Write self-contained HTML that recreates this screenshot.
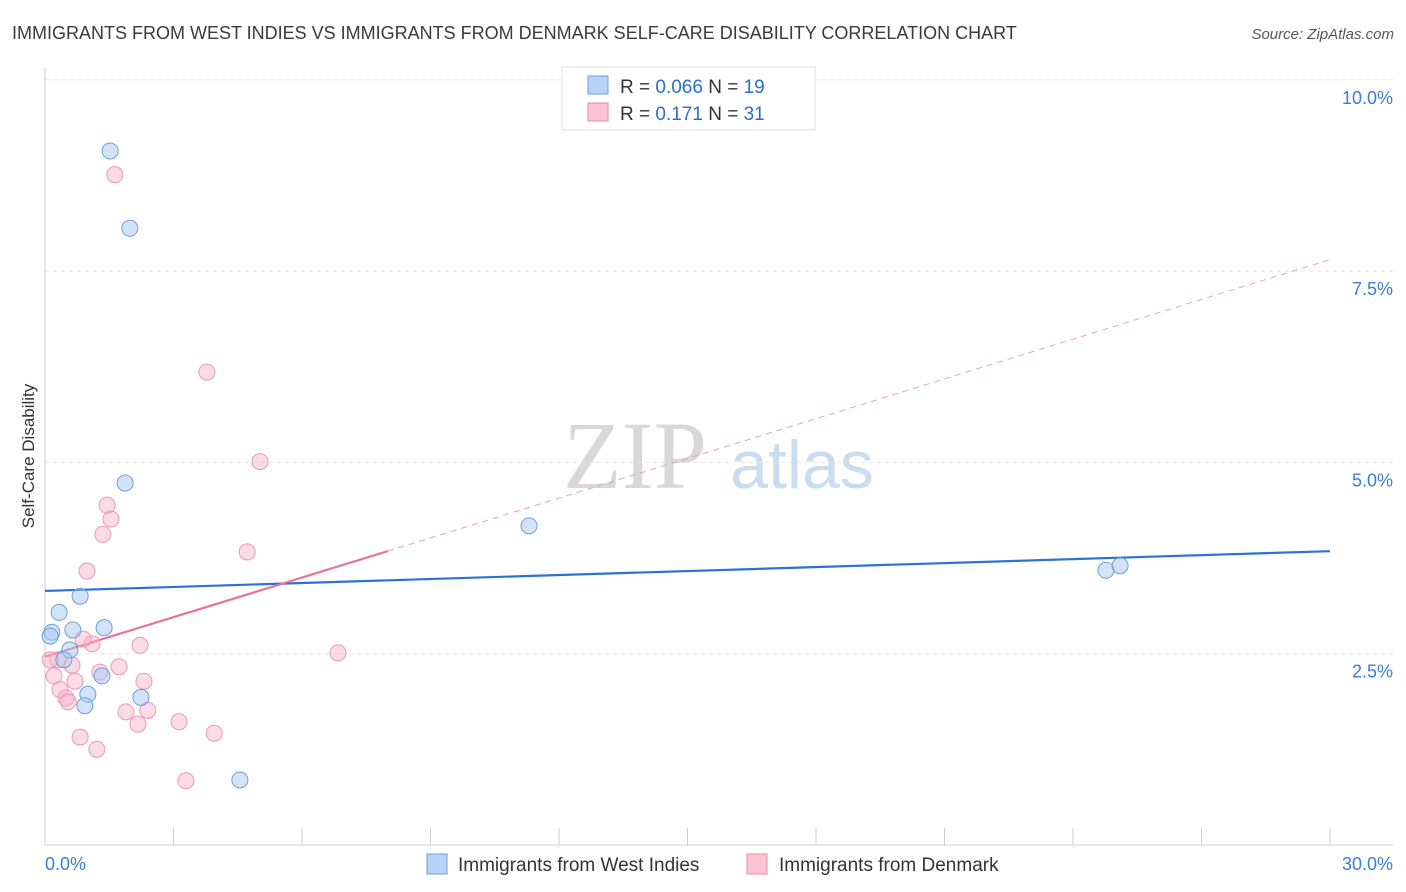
<!DOCTYPE html>
<html><head><meta charset="utf-8"><style>
body{margin:0;background:#fff;font-family:"Liberation Sans",sans-serif;}
</style></head><body>
<svg id="chart" width="1406" height="892" xmlns="http://www.w3.org/2000/svg" style="display:block">
<text x="12" y="39" font-size="18" fill="#3a3a3a">IMMIGRANTS FROM WEST INDIES VS IMMIGRANTS FROM DENMARK SELF-CARE DISABILITY CORRELATION CHART</text>
<text x="1394" y="39" font-size="15" fill="#555" font-style="italic" text-anchor="end">Source: ZipAtlas.com</text>
<g>
<text x="635" y="488" font-size="96" font-family="Liberation Serif,serif" fill="#d8d8d8" text-anchor="middle">ZIP</text>
<text x="802" y="488" font-size="68" fill="#c8dcf2" text-anchor="middle">atlas</text>
</g>
<g id="grid"></g>
<g id="axes"></g>
<g id="lines"></g>
<g id="points"></g>
<text transform="translate(34,456) rotate(-90)" font-size="17" fill="#333" text-anchor="middle">Self-Care Disability</text>
<g>
<rect x="562" y="67" width="253" height="63" fill="#fff" stroke="#ddd"/>
<rect x="588" y="76" width="20" height="18" fill="#b8d3f5" stroke="#6a9fe0"/>
<rect x="588" y="103" width="20" height="18" fill="#f9c4d4" stroke="#e888a8"/>
<text x="620" y="93" font-size="19" fill="#333">R = <tspan fill="#2a6fd0">0.066</tspan>   N = <tspan fill="#2a6fd0">19</tspan></text>
<text x="620" y="120" font-size="19" fill="#333">R =   <tspan fill="#2a6fd0">0.171</tspan>   N = <tspan fill="#2a6fd0">31</tspan></text>
</g>
<g>
<rect x="427" y="854" width="20" height="20" fill="#b8d3f5" stroke="#6a9fe0"/>
<text x="458" y="871" font-size="19" fill="#333">Immigrants from West Indies</text>
<rect x="747" y="854" width="20" height="20" fill="#f9c4d4" stroke="#e888a8"/>
<text x="779" y="871" font-size="19" fill="#333">Immigrants from Denmark</text>
</g>
</svg>
<script>
const blueX=[1.52,1.98,1.87,11.30,24.77,25.10,0.82,0.33,0.16,0.65,1.38,0.58,0.44,1.33,1.00,0.93,2.24,4.55,0.12];
const blueY=[9.07,8.06,4.73,4.17,3.59,3.65,3.25,3.04,2.78,2.81,2.84,2.55,2.42,2.21,1.97,1.82,1.93,0.85,2.73];
const pinkX=[1.63,3.78,5.02,1.45,1.54,1.35,4.72,0.98,2.22,1.10,0.89,6.84,0.30,0.63,1.28,1.73,0.21,0.70,2.31,0.35,0.49,0.54,1.89,2.40,2.17,3.13,0.82,3.95,1.21,3.29,0.12];
const pinkY=[8.76,6.18,5.01,4.44,4.26,4.06,3.83,3.58,2.61,2.63,2.69,2.51,2.42,2.35,2.26,2.33,2.21,2.14,2.14,2.03,1.92,1.87,1.74,1.76,1.58,1.61,1.41,1.46,1.25,0.84,2.42];
const blueTrend=[[0,3.32],[30,3.84]];
const pinkTrendSolid=[[0,2.46],[8,3.84]];
const pinkTrendDash=[[8,3.84],[30,7.65]];
const yTicks=[2.5,5,7.5,10];
const yTickLabels=["2.5%","5.0%","7.5%","10.0%"];
const xTicks=[0,3,6,9,12,15,18,21,24,27,30];
const xTickLabels=["0.0%","30.0%"];
const NS="http://www.w3.org/2000/svg";
const sx=v=>45+v/30*1285, sy=v=>845-v*76.52;
function mk(t,a,p){const e=document.createElementNS(NS,t);for(const k in a)e.setAttribute(k,a[k]);p.appendChild(e);return e;}
const grid=document.getElementById('grid'),axes=document.getElementById('axes'),lines=document.getElementById('lines'),pts=document.getElementById('points');
yTicks.forEach((v,i)=>{
 const l=mk('line',{x1:45,x2:1393,y1:sy(v),y2:sy(v),stroke:'#e2e2e2','stroke-dasharray':'4,4'},grid);
 
 
 const t=mk('text',{x:1393,y:sy(v)+24,'font-size':18,fill:'#3b7dd8','text-anchor':'end'},axes);
 t.textContent=yTickLabels[i];
 
 
});
const ax=mk('line',{x1:45,x2:45,y1:68,y2:845,stroke:'#ccc'},axes);


const bx=mk('line',{x1:45,x2:1393,y1:845,y2:845,stroke:'#ccc'},axes);


xTicks.forEach(v=>{
 const t=mk('line',{x1:sx(v),x2:sx(v),y1:828,y2:845,stroke:'#ccc'},axes);
 
 
});
[[0,'start',45],[30,'end',1393]].forEach((d,i)=>{
 const t=mk('text',{x:d[2],y:870,'font-size':18,fill:'#3b7dd8','text-anchor':d[1]},axes);
 t.textContent=xTickLabels[i];
 
 
});
function line(tr,col,w,dash,name){
 const l=mk('line',{x1:sx(tr[0][0]),y1:sy(tr[0][1]),x2:sx(tr[1][0]),y2:sy(tr[1][1]),stroke:col,'stroke-width':w},lines);
 if(dash)l.setAttribute('stroke-dasharray',dash);
 
 
}
line(blueTrend,'#2a72d6',2.2,null,'west-indies-trendline');
line(pinkTrendSolid,'#e8709a',2.2,null,'denmark-trendline');
line(pinkTrendDash,'#e8a0b8',1,'6,5','denmark-trendline-extension');
pinkX.forEach((x,i)=>{
 const c=mk('circle',{cx:sx(x),cy:sy(pinkY[i]),r:8,fill:'rgba(246,176,200,0.45)',stroke:'#eb98b4','stroke-width':1},pts);
 
 
});
blueX.forEach((x,i)=>{
 const c=mk('circle',{cx:sx(x),cy:sy(blueY[i]),r:8,fill:'rgba(168,200,240,0.5)',stroke:'#6a9fe0','stroke-width':1},pts);
 
 
});
</script>
</body></html>
